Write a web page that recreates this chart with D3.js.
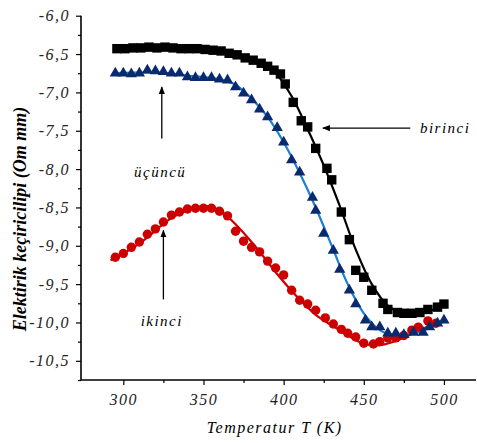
<!DOCTYPE html>
<html>
<head>
<meta charset="utf-8">
<script src="https://cdn.jsdelivr.net/npm/d3@7"></script>
<style>
  body { margin: 0; background: #fff; }
  svg text { font-family: "Times New Roman", "Liberation Serif", "DejaVu Serif", serif; font-style: italic; }
</style>
</head>
<body>
<script>
// birinci (black squares)
var birinciT = [296, 301, 306, 311, 316, 321, 326, 331, 336, 341, 346, 351, 356, 361, 366, 371, 376, 381, 386, 390, 394, 398, 401, 406, 411, 415, 420, 427, 430, 436, 441, 445, 450, 455, 462, 465, 471, 475, 480, 485, 490, 496, 500];
var birinciV = [-6.43, -6.43, -6.42, -6.42, -6.41, -6.42, -6.41, -6.42, -6.43, -6.43, -6.43, -6.44, -6.45, -6.46, -6.49, -6.51, -6.55, -6.58, -6.62, -6.66, -6.71, -6.76, -6.89, -7.13, -7.37, -7.45, -7.73, -7.99, -8.14, -8.56, -8.92, -9.32, -9.41, -9.58, -9.75, -9.83, -9.87, -9.88, -9.88, -9.87, -9.83, -9.80, -9.76];
var birinciFitT = [296, 320, 340, 360, 375, 385, 395, 405, 415, 425, 435, 445, 455, 465, 475, 485, 495, 500];
var birinciFitV = [-6.43, -6.42, -6.43, -6.46, -6.54, -6.62, -6.75, -7.05, -7.48, -7.95, -8.48, -9.05, -9.5, -9.78, -9.88, -9.88, -9.82, -9.77];

// ikinci (red circles)
var ikinciT = [295, 300, 305, 310, 315, 320, 325, 330, 335, 340, 345, 350, 355, 360, 365, 370, 375, 380, 385, 390, 395, 400, 405, 410, 415, 420, 426, 431, 436, 440, 445, 450, 456, 460, 465, 470, 475, 480, 484, 490, 495];
var ikinciV = [-9.15, -9.10, -9.02, -8.95, -8.85, -8.78, -8.69, -8.60, -8.56, -8.52, -8.51, -8.51, -8.51, -8.55, -8.61, -8.81, -8.94, -9.02, -9.08, -9.20, -9.29, -9.38, -9.58, -9.71, -9.76, -9.84, -9.94, -10.02, -10.09, -10.14, -10.19, -10.27, -10.28, -10.25, -10.20, -10.20, -10.17, -10.10, -10.06, -9.98, -10.01];
var ikinciFitT = [292, 310, 330, 345, 355, 365, 380, 398, 410, 420, 435, 448, 458, 470, 485, 495];
var ikinciFitV = [-9.19, -8.97, -8.64, -8.50, -8.49, -8.62, -8.95, -9.42, -9.70, -9.90, -10.10, -10.26, -10.30, -10.24, -10.10, -10.00];

// ucuncu (blue triangles)
var ucuncuT = [295, 300, 305, 310, 315, 320, 325, 330, 335, 340, 345, 350, 355, 360, 365, 370, 375, 380, 385, 390, 396, 400, 405, 410, 418, 420, 425, 431, 435, 441, 445, 451, 455, 460, 465, 470, 475, 481, 487, 491, 496, 500];
var ucuncuV = [-6.75, -6.75, -6.76, -6.75, -6.71, -6.72, -6.73, -6.75, -6.75, -6.80, -6.81, -6.81, -6.81, -6.83, -6.84, -6.93, -7.01, -7.10, -7.22, -7.32, -7.46, -7.65, -7.88, -8.04, -8.37, -8.54, -8.84, -9.06, -9.31, -9.58, -9.76, -9.97, -10.06, -10.06, -10.14, -10.14, -10.16, -10.13, -10.13, -10.06, -10.01, -9.97];
var ucuncuFitT = [295, 320, 340, 360, 370, 380, 390, 400, 410, 420, 430, 440, 450, 460, 470, 480, 490, 500];
var ucuncuFitV = [-6.75, -6.74, -6.78, -6.83, -6.90, -7.08, -7.32, -7.65, -8.05, -8.50, -9.00, -9.50, -9.88, -10.10, -10.17, -10.15, -10.08, -9.99];

var xTicks = [300, 350, 400, 450, 500];
var xMinor = [325, 375, 425, 475];
var yTicks = [-6.0, -6.5, -7.0, -7.5, -8.0, -8.5, -9.0, -9.5, -10.0, -10.5];
var yMinor = [-6.25, -6.75, -7.25, -7.75, -8.25, -8.75, -9.25, -9.75, -10.25, -10.75];

var zip = function(ts, vs) {
  return ts.map(function(t, i) { return {t: t, v: vs[i]}; });
};

var width = 477, height = 443;

var x = d3.scaleLinear().domain([273.6, 520]).range([81, 476]);
var y = d3.scaleLinear().domain([-10.75, -6.0]).range([380, 15.7]);

var svg = d3.select('body').append('svg')
  .attr('width', width)
  .attr('height', height);

var fmtY = function(d) {
  return '-' + Math.abs(d).toFixed(1).replace('.', ',');
};

// axes
var yAxis = svg.append('g')
  .attr('transform', 'translate(81,0)')
  .call(d3.axisLeft(y).tickValues(yTicks).tickSize(5).tickPadding(6).tickFormat(fmtY));
svg.append('g')
  .attr('transform', 'translate(81,0)')
  .call(d3.axisLeft(y).tickValues(yMinor).tickSize(3).tickFormat(''))
  .select('.domain').remove();

var xAxis = svg.append('g')
  .attr('transform', 'translate(0,380)')
  .call(d3.axisBottom(x).tickValues(xTicks).tickSize(5).tickPadding(9));
svg.append('g')
  .attr('transform', 'translate(0,380)')
  .call(d3.axisBottom(x).tickValues(xMinor).tickSize(3).tickFormat(''))
  .select('.domain').remove();

svg.selectAll('.domain').attr('stroke-width', 1.6);
svg.selectAll('.tick line').attr('stroke-width', 1.2);
svg.selectAll('.tick text')
  .attr('font-size', 16)
  .attr('letter-spacing', 1.5)
  .attr('fill', '#222');

// straight domain paths (no outer ticks)
yAxis.select('.domain').attr('d', 'M0,' + y(-10.75) + 'V' + y(-6.0));
xAxis.select('.domain').attr('d', 'M' + x(273.6) + ',0H' + x(520));

// axis titles
svg.append('text')
  .attr('transform', 'translate(26,' + y(-8.65) + ') rotate(-90)')
  .attr('text-anchor', 'middle')
  .attr('font-size', 18)
  .attr('font-weight', 'bold')
  .text('Elektirik keçiricilipi (Om mm)');

svg.append('text')
  .attr('x', x(394.4))
  .attr('y', 433)
  .attr('text-anchor', 'middle')
  .attr('font-size', 16)
  .attr('letter-spacing', 1.5)
  .text('Temperatur T (K)');

// fit lines
var line = d3.line()
  .x(function(d) { return x(d.t); })
  .y(function(d) { return y(d.v); })
  .curve(d3.curveCatmullRom.alpha(0.5));

var g = svg.append('g');

g.append('path').datum(zip(ikinciFitT, ikinciFitV))
  .attr('d', line).attr('fill', 'none').attr('stroke', '#cc0000').attr('stroke-width', 2.2);
g.append('path').datum(zip(ucuncuFitT, ucuncuFitV))
  .attr('d', line).attr('fill', 'none').attr('stroke', '#1a7fd4').attr('stroke-width', 2.2);
g.append('path').datum(zip(birinciFitT, birinciFitV))
  .attr('d', line).attr('fill', 'none').attr('stroke', '#000').attr('stroke-width', 2.2);

// markers
g.selectAll('.ikinci').data(zip(ikinciT, ikinciV)).enter()
  .append('circle')
  .attr('class', 'ikinci')
  .attr('cx', function(d) { return x(d.t); })
  .attr('cy', function(d) { return y(d.v); })
  .attr('r', 4.7)
  .attr('fill', '#cc0000');

g.selectAll('.ucuncu').data(zip(ucuncuT, ucuncuV)).enter()
  .append('path')
  .attr('class', 'ucuncu')
  .attr('d', d3.symbol().type(d3.symbolTriangle).size(55))
  .attr('transform', function(d) { return 'translate(' + x(d.t) + ',' + y(d.v) + ')'; })
  .attr('fill', '#0b2a6e');

g.selectAll('.birinci').data(zip(birinciT, birinciV)).enter()
  .append('rect')
  .attr('class', 'birinci')
  .attr('x', function(d) { return x(d.t) - 4.7; })
  .attr('y', function(d) { return y(d.v) - 4.7; })
  .attr('width', 9.4)
  .attr('height', 9.4)
  .attr('fill', '#000');

// annotations
svg.append('defs').append('marker')
  .attr('id', 'head')
  .attr('viewBox', '0 0 10 10')
  .attr('refX', 9).attr('refY', 5)
  .attr('markerWidth', 6).attr('markerHeight', 6)
  .attr('orient', 'auto')
  .append('path').attr('d', 'M0,1L10,5L0,9Z').attr('fill', '#000');

var arrows = [
  {x1: 479, y1: -7.465, x2: 424.5, y2: -7.465},
  {x1: 324, y1: -7.60, x2: 324, y2: -6.93},
  {x1: 325, y1: -9.70, x2: 325, y2: -8.80}
];
svg.selectAll('.arrow').data(arrows).enter()
  .append('line')
  .attr('class', 'arrow')
  .attr('x1', function(d) { return x(d.x1); })
  .attr('y1', function(d) { return y(d.y1); })
  .attr('x2', function(d) { return x(d.x2); })
  .attr('y2', function(d) { return y(d.y2); })
  .attr('stroke', '#000')
  .attr('stroke-width', 1.3)
  .attr('marker-end', 'url(#head)');

var labels = [
  {t: 485, v: -7.525, text: 'birinci', anchor: 'start'},
  {t: 323, v: -8.10, text: 'üçüncü', anchor: 'middle'},
  {t: 324, v: -10.05, text: 'ikinci', anchor: 'middle'}
];
svg.selectAll('.lbl').data(labels).enter()
  .append('text')
  .attr('class', 'lbl')
  .attr('x', function(d) { return x(d.t); })
  .attr('y', function(d) { return y(d.v); })
  .attr('text-anchor', function(d) { return d.anchor; })
  .attr('font-size', 15)
  .attr('letter-spacing', 1.5)
  .text(function(d) { return d.text; });
</script>
</body>
</html>
